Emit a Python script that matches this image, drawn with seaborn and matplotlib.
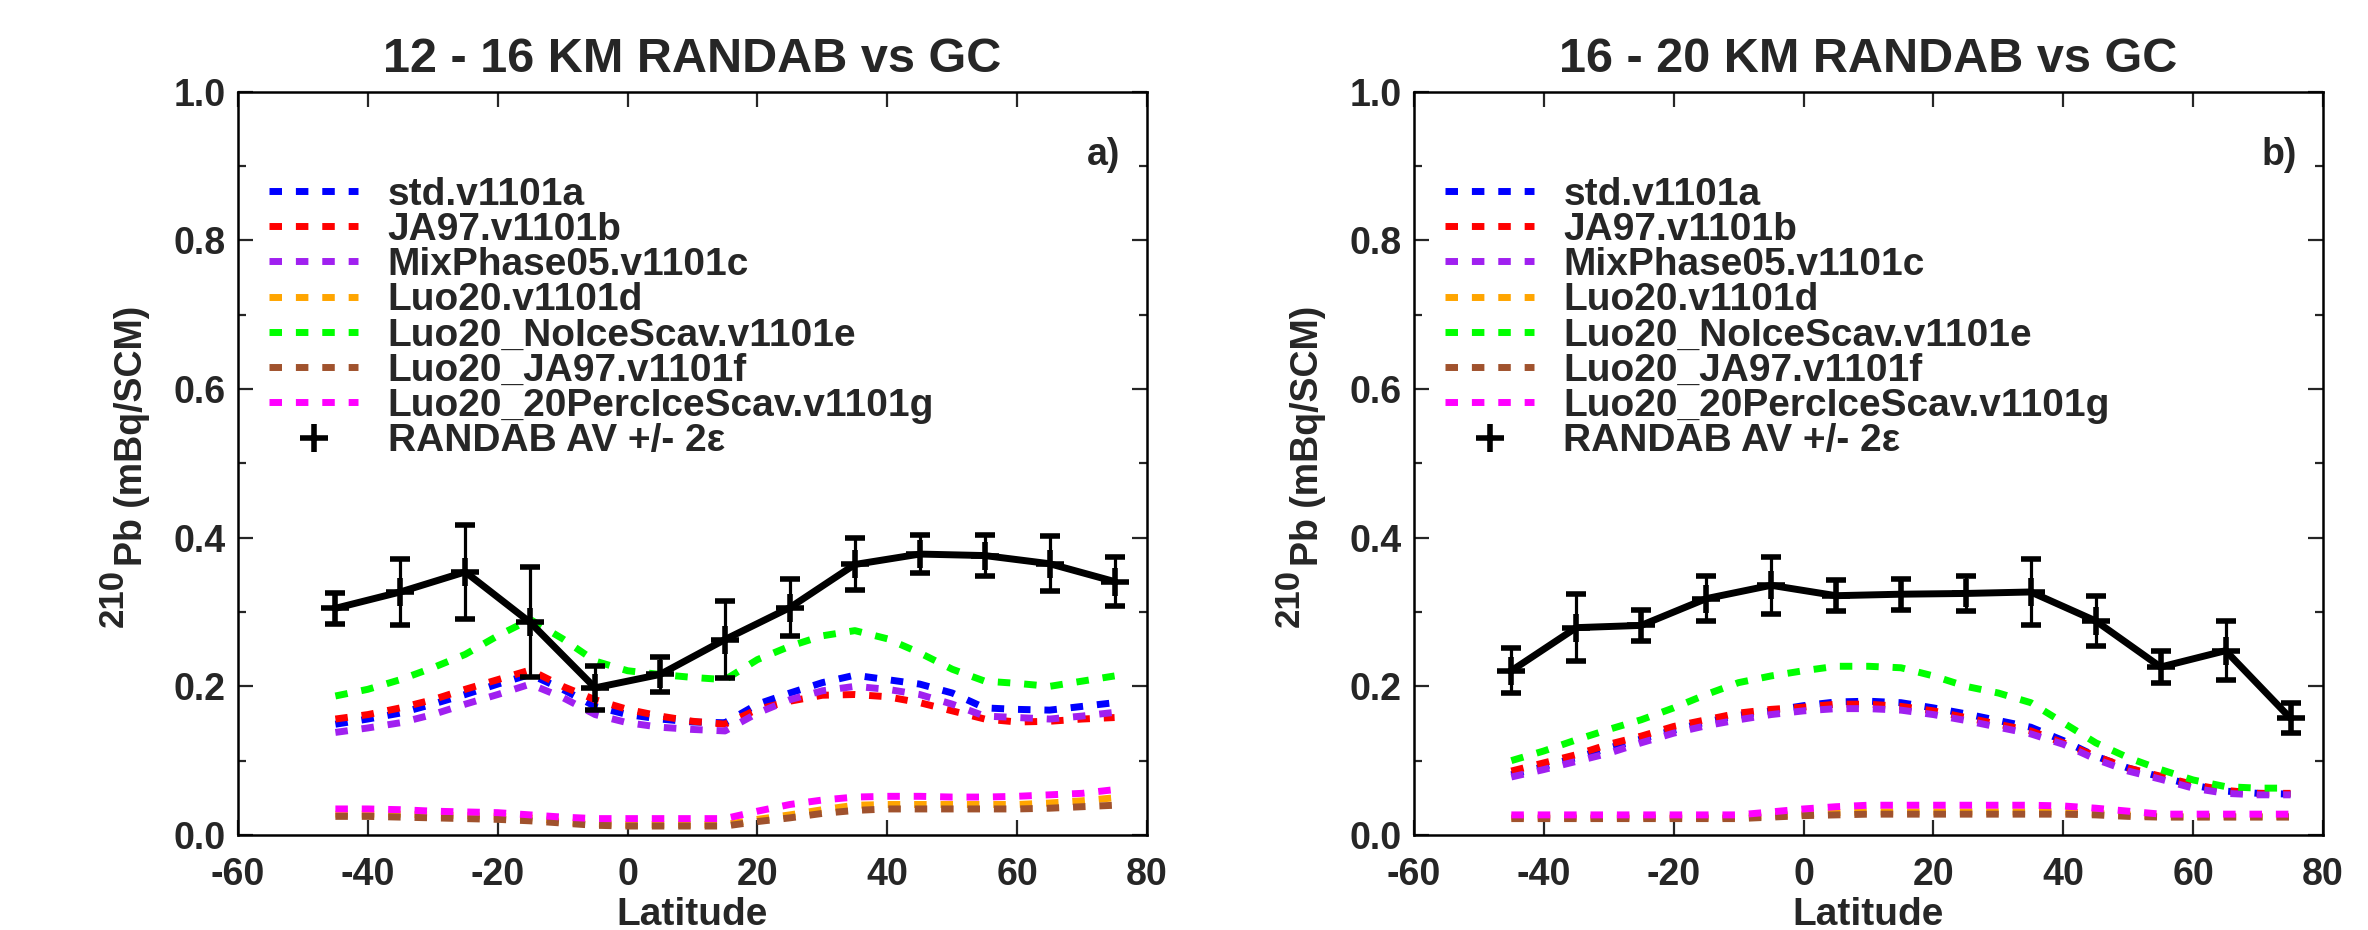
import matplotlib
matplotlib.use("Agg")
import matplotlib.pyplot as plt
import seaborn as sns
from matplotlib.lines import Line2D
from matplotlib.ticker import MultipleLocator

sns.set_theme(style="ticks")
plt.rcParams["font.family"] = ["Liberation Sans", "DejaVu Sans"]
plt.rcParams["font.weight"] = "bold"
plt.rcParams["axes.unicode_minus"] = False

# latitudes of the model curves and of the RANDAB bins
lat_model = [-45, -40, -35, -30, -25, -20, -15, -10, -5, 0, 5, 10, 15,
             20, 25, 30, 35, 40, 45, 50, 55, 60, 65, 70, 75]
lat_obs = [-45, -35, -25, -15, -5, 5, 15, 25, 35, 45, 55, 65, 75]

run_names = ["std.v1101a", "JA97.v1101b", "MixPhase05.v1101c", "Luo20.v1101d",
             "Luo20_NoIceScav.v1101e", "Luo20_JA97.v1101f",
             "Luo20_20PercIceScav.v1101g"]
run_colors = ["#0000ff", "#ff0000", "#a020f0", "#ffa500", "#00ff00",
              "#a0522d", "#ff00ff"]
obs_name = "RANDAB AV +/- 2\u03b5"

# ---- 12-16 km ----
std_a = [0.149, 0.156, 0.164, 0.176, 0.189, 0.203, 0.216, 0.196, 0.173, 0.162, 0.156, 0.152, 0.151,
         0.176, 0.191, 0.205, 0.215, 0.209, 0.203, 0.191, 0.171, 0.169, 0.168, 0.173, 0.178]
ja97_a = [0.156, 0.162, 0.171, 0.182, 0.196, 0.209, 0.222, 0.200, 0.182, 0.169, 0.160, 0.153, 0.149,
          0.169, 0.180, 0.188, 0.189, 0.186, 0.178, 0.167, 0.156, 0.152, 0.153, 0.156, 0.158]
mix_a = [0.138, 0.144, 0.151, 0.162, 0.176, 0.189, 0.203, 0.185, 0.162, 0.151, 0.145, 0.142, 0.140,
         0.164, 0.182, 0.194, 0.200, 0.196, 0.189, 0.176, 0.160, 0.158, 0.156, 0.160, 0.165]
luo_a = [0.028, 0.028, 0.028, 0.027, 0.026, 0.025, 0.023, 0.018, 0.015, 0.014, 0.014, 0.014, 0.014,
         0.021, 0.027, 0.034, 0.040, 0.041, 0.041, 0.041, 0.041, 0.041, 0.043, 0.046, 0.050]
noice_a = [0.187, 0.196, 0.209, 0.225, 0.243, 0.268, 0.290, 0.264, 0.234, 0.221, 0.216, 0.212, 0.209,
           0.236, 0.254, 0.268, 0.275, 0.264, 0.245, 0.223, 0.207, 0.204, 0.200, 0.207, 0.214]
luoja_a = [0.025, 0.025, 0.024, 0.023, 0.022, 0.021, 0.019, 0.016, 0.013, 0.012, 0.012, 0.012, 0.012,
           0.018, 0.023, 0.029, 0.033, 0.035, 0.035, 0.035, 0.035, 0.035, 0.036, 0.038, 0.040]
perc_a = [0.035, 0.035, 0.034, 0.032, 0.031, 0.030, 0.027, 0.024, 0.022, 0.022, 0.022, 0.022, 0.022,
          0.032, 0.041, 0.047, 0.051, 0.052, 0.052, 0.051, 0.051, 0.052, 0.054, 0.056, 0.061]
obs_a = [0.305, 0.327, 0.354, 0.286, 0.198, 0.216, 0.263, 0.306, 0.364, 0.378, 0.376, 0.365, 0.341]
err_a = [0.021, 0.045, 0.063, 0.074, 0.030, 0.024, 0.052, 0.038, 0.035, 0.025, 0.028, 0.037, 0.033]

# ---- 16-20 km ----
std_b = [0.081, 0.092, 0.104, 0.117, 0.129, 0.141, 0.152, 0.161, 0.167, 0.174, 0.179, 0.180, 0.178,
         0.171, 0.163, 0.154, 0.145, 0.127, 0.106, 0.090, 0.078, 0.067, 0.059, 0.056, 0.055]
ja97_b = [0.086, 0.097, 0.108, 0.122, 0.133, 0.146, 0.155, 0.164, 0.169, 0.172, 0.176, 0.176, 0.173,
          0.167, 0.158, 0.149, 0.140, 0.124, 0.106, 0.090, 0.079, 0.068, 0.060, 0.056, 0.056]
mix_b = [0.078, 0.088, 0.099, 0.110, 0.124, 0.137, 0.147, 0.155, 0.162, 0.167, 0.170, 0.170, 0.168,
         0.162, 0.154, 0.145, 0.136, 0.122, 0.102, 0.086, 0.075, 0.063, 0.056, 0.054, 0.054]
luo_b = [0.024, 0.024, 0.024, 0.024, 0.024, 0.024, 0.024, 0.024, 0.026, 0.028, 0.030, 0.031, 0.031,
         0.031, 0.031, 0.031, 0.031, 0.031, 0.029, 0.027, 0.025, 0.025, 0.025, 0.025, 0.025]
noice_b = [0.100, 0.113, 0.128, 0.142, 0.155, 0.171, 0.189, 0.205, 0.214, 0.221, 0.227, 0.227, 0.225,
           0.214, 0.200, 0.191, 0.178, 0.151, 0.124, 0.104, 0.088, 0.074, 0.065, 0.063, 0.063]
luoja_b = [0.022, 0.022, 0.022, 0.022, 0.022, 0.022, 0.022, 0.022, 0.024, 0.026, 0.027, 0.028, 0.028,
           0.028, 0.028, 0.028, 0.028, 0.028, 0.027, 0.025, 0.024, 0.024, 0.024, 0.024, 0.024]
perc_b = [0.027, 0.027, 0.027, 0.027, 0.027, 0.027, 0.027, 0.027, 0.031, 0.035, 0.038, 0.040, 0.040,
          0.040, 0.040, 0.040, 0.040, 0.039, 0.036, 0.032, 0.028, 0.028, 0.028, 0.028, 0.028]
obs_b = [0.221, 0.279, 0.282, 0.318, 0.336, 0.322, 0.324, 0.325, 0.327, 0.288, 0.226, 0.248, 0.157]
err_b = [0.030, 0.045, 0.021, 0.030, 0.038, 0.021, 0.021, 0.023, 0.044, 0.034, 0.021, 0.040, 0.020]

panels = [
    ("12 - 16 KM RANDAB vs GC", "a)",
     [std_a, ja97_a, mix_a, luo_a, noice_a, luoja_a, perc_a], obs_a, err_a),
    ("16 - 20 KM RANDAB vs GC", "b)",
     [std_b, ja97_b, mix_b, luo_b, noice_b, luoja_b, perc_b], obs_b, err_b),
]

fig = plt.figure(figsize=(23.68, 9.30), dpi=100)
ax_lefts = [0.1005, 0.5971]
dash = (0, (1.8, 2.0))
model_lw = 5.0

for (title, tag, runs, obs, err), x0 in zip(panels, ax_lefts):
    ax = fig.add_axes([x0, 0.1022, 0.3839, 0.799])

    for name, col, vals in zip(run_names, run_colors, runs):
        sns.lineplot(x=lat_model, y=vals, ax=ax, color=col, lw=model_lw,
                     linestyle=dash, label=name, legend=False)

    ax.errorbar(lat_obs, obs, yerr=err, color="black", lw=5.0, marker="+",
                ms=20, mew=4, elinewidth=2.3, capsize=7, capthick=2.3,
                zorder=5)

    ax.set_xlim(-60, 80)
    ax.set_ylim(0.0, 1.0)
    ax.set_xticks(range(-60, 81, 20))
    ax.yaxis.set_major_locator(MultipleLocator(0.2))
    ax.yaxis.set_minor_locator(MultipleLocator(0.1))
    ax.yaxis.set_major_formatter(plt.FormatStrFormatter("%.1f"))
    ax.tick_params(axis="both", which="both", direction="in", top=True,
                   right=True, width=1.6)
    ax.tick_params(axis="both", which="major", length=11, labelsize=27)
    ax.tick_params(axis="y", which="minor", length=6)
    ax.tick_params(axis="x", pad=16)
    ax.tick_params(axis="y", pad=9)
    for lab in ax.get_xticklabels() + ax.get_yticklabels():
        lab.set_fontweight("bold")
    for sp in ax.spines.values():
        sp.set_linewidth(1.8)
        sp.set_color("black")

    ax.set_title(title, fontsize=35, fontweight="bold", pad=14)
    ax.set_xlabel("Latitude", fontsize=28, fontweight="bold")
    ax.xaxis.set_label_coords(0.5, -0.084)

    # y label: "210" drawn nearly full size as a raised prefix of "Pb"
    ax.set_ylabel("Pb (mBq/SCM)", fontsize=27, fontweight="bold")
    ax.yaxis.set_label_coords(-0.097, 0.537)
    ax.text(-0.119, 0.358, "210", transform=ax.transAxes, rotation=90,
            rotation_mode="anchor", ha="right", va="bottom", fontsize=25,
            fontweight="bold", clip_on=False)

    ax.text(0.971, 0.902, tag, transform=ax.transAxes, ha="right",
            va="baseline", fontsize=27, fontweight="bold")

    handles = [Line2D([0], [0], color=c, lw=model_lw, linestyle=dash)
               for c in run_colors]
    handles.append(Line2D([0], [0], color="black", marker="+", ms=20,
                          mew=4, linestyle="none"))
    ax.legend(handles, run_names + [obs_name], loc="upper left",
              bbox_to_anchor=(0.034, 0.886), frameon=False, borderpad=0,
              borderaxespad=0, handlelength=2.3, handletextpad=0.75,
              labelspacing=-0.02, prop={"size": 28, "weight": "bold"})

plt.savefig("out.png", dpi=100)
plt.close()
